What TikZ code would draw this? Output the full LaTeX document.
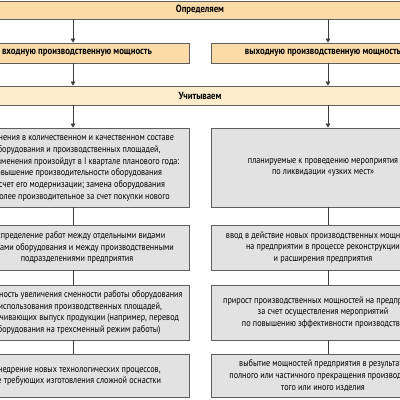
\documentclass[tikz,border=0pt]{standalone}
\usepackage{fontspec}
\setmainfont[FakeStretch=0.85]{PT Sans}
\usetikzlibrary{arrows.meta}
\definecolor{orA}{HTML}{FBDBA7}
\definecolor{orB}{HTML}{FDEBCB}
\definecolor{grF}{HTML}{E2E2E2}
\definecolor{bd}{HTML}{5E5E5E}
\definecolor{cn}{HTML}{3C3C3C}
\begin{document}
\begin{tikzpicture}[x=1pt,y={(0pt,-1pt)},
  box/.style={draw=bd,line width=0.8pt,inner sep=0pt,align=center,
    font=\fontsize{9.6}{11.7}\selectfont},
  hdrA/.style={box,fill=orA,font=\fontsize{10.3}{11.7}\selectfont\bfseries},
  hdrB/.style={box,fill=orB,font=\fontsize{10.3}{11.7}\selectfont\bfseries},
  colbox/.style={box,fill=grF,minimum width=224pt},
  arr/.style={draw=cn,line width=0.7pt,-{Triangle[width=4.5pt,length=4pt]}},
  ln/.style={draw=cn,line width=0.7pt}]
\useasboundingbox (0,0) rectangle (400,400);
\clip (0,0) rectangle (400,400);
\fill[white] (0,0) rectangle (400,400);
\coordinate (cl) at (73,0);
\coordinate (cr) at (328,0);

\node[hdrA,minimum width=470pt,minimum height=18pt] (top) at (200,10) {Определяем};
\node[hdrA,minimum width=224pt,minimum height=20pt] (inL) at (77,53) {входную производственную мощность};
\node[hdrA,minimum width=224pt,minimum height=20pt] (outR) at (323,53) {выходную производственную мощность};
\node[hdrB,minimum width=470pt,minimum height=19pt] (uch) at (200,95.5) {Учитываем};

\node[colbox,minimum height=79pt] (l1) at (77,167.5) {Изменения в количественном и качественном составе\\оборудования и производственных площадей,\\если изменения произойдут в I квартале планового года:\\повышение производительности оборудования\\за счет его модернизации; замена оборудования\\на более производительное за счет покупки нового};
\node[colbox,minimum height=45pt] (l2) at (77,247.5) {Распределение работ между отдельными видами\\группами оборудования и между производственными\\подразделениями предприятия};
\node[colbox,minimum height=55pt] (l3) at (77,312.5) {Возможность увеличения сменности работы оборудования\\и использования производственных площадей,\\обеспечивающих выпуск продукции (например, перевод\\оборудования на трехсменный режим работы)};
\node[colbox,minimum height=43pt] (l4) at (77,375.5) {Внедрение новых технологических процессов,\\не требующих изготовления сложной оснастки};

\node[colbox,minimum height=79pt] (r1) at (323,167.5) {планируемые к проведению мероприятия\\по ликвидации «узких мест»};
\node[colbox,minimum height=45pt] (r2) at (323,247.5) {ввод в действие новых производственных мощностей\\на предприятии в процессе реконструкции\\и расширения предприятия};
\node[colbox,minimum height=55pt] (r3) at (323,312.5) {прирост производственных мощностей на предприятии\\за счет осуществления мероприятий\\по повышению эффективности производства};
\node[colbox,minimum height=43pt] (r4) at (323,375.5) {выбытие мощностей предприятия в результате\\полного или частичного прекращения производства\\того или иного изделия};

\draw[arr] (top.south -| cl) -- (inL.north -| cl);
\draw[arr] (top.south -| cr) -- (outR.north -| cr);
\draw[arr] (inL.south -| cl) -- (uch.north -| cl);
\draw[arr] (outR.south -| cr) -- (uch.north -| cr);
\draw[arr] (uch.south -| cl) -- (l1.north -| cl);
\draw[arr] (uch.south -| cr) -- (r1.north -| cr);
\draw[ln] (l1.south -| cl) -- (l2.north -| cl);
\draw[ln] (l2.south -| cl) -- (l3.north -| cl);
\draw[ln] (l3.south -| cl) -- (l4.north -| cl);
\draw[ln] (r1.south -| cr) -- (r2.north -| cr);
\draw[ln] (r2.south -| cr) -- (r3.north -| cr);
\draw[ln] (r3.south -| cr) -- (r4.north -| cr);
\end{tikzpicture}
\end{document}
